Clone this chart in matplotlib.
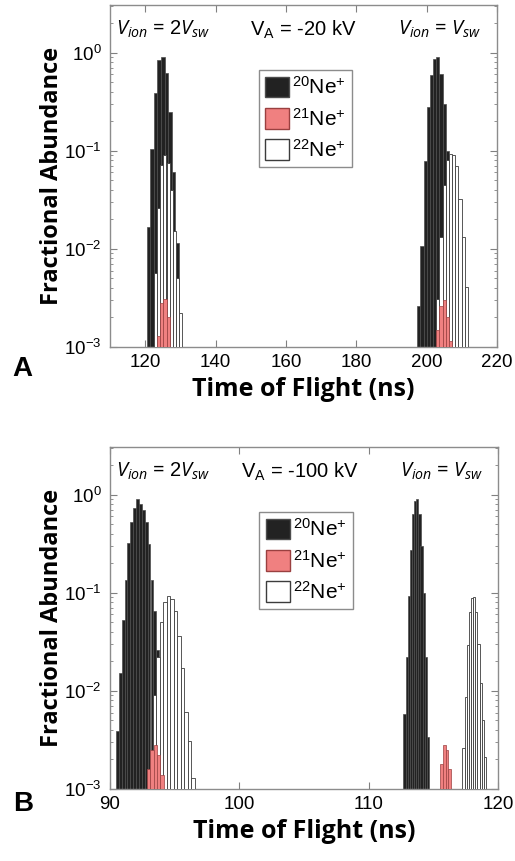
import numpy as np
import matplotlib
matplotlib.use("Agg")
import matplotlib.pyplot as plt
from matplotlib.patches import Patch
from matplotlib.ticker import LogLocator, NullFormatter

plt.rcParams['font.family'] = ['Liberation Sans', 'DejaVu Sans']
plt.rcParams['mathtext.fontset'] = 'custom'
plt.rcParams['mathtext.rm'] = 'Liberation Sans'
plt.rcParams['mathtext.it'] = 'Open Sans:italic'
plt.rcParams['mathtext.bf'] = 'Liberation Sans:bold'
plt.rcParams['mathtext.default'] = 'regular'

# ---- panel A data (V_A = -20 kV) ----
a_ne20_slow_x = [121, 122, 123, 124, 125, 126, 127, 128, 129]
a_ne20_slow_y = [0.0166, 0.105, 0.39, 0.83, 0.91, 0.62, 0.25, 0.06, 0.0115]
a_ne22_slow_x = [122.9, 123.75, 124.65, 125.6, 126.55, 127.5, 128.4, 129.3, 130.15]
a_ne22_slow_y = [0.0056, 0.026, 0.072, 0.091, 0.074, 0.04, 0.015, 0.005, 0.0021]
a_ne21_slow_x = [123.7, 124.65, 125.6, 126.55]
a_ne21_slow_y = [0.0012, 0.0027, 0.003, 0.0019]

a_ne20_fast_x = [197.8, 198.7, 199.6, 200.5, 201.4, 202.3, 203.2, 204.1, 205.0, 205.9]
a_ne20_fast_y = [0.0025, 0.0105, 0.078, 0.28, 0.59, 0.85, 0.91, 0.6, 0.3, 0.1]
a_ne22_fast_x = [203.2, 204.1, 205.0, 205.9, 206.8, 207.7, 208.6, 209.5, 210.4, 211.3]
a_ne22_fast_y = [0.003, 0.013, 0.045, 0.08, 0.093, 0.09, 0.07, 0.032, 0.013, 0.004]
a_ne21_fast_x = [203.2, 204.1, 205.0, 205.9, 206.8]
a_ne21_fast_y = [0.0014, 0.0025, 0.0029, 0.0019, 0.00105]

# ---- panel B data (V_A = -100 kV) ----
b_ne20_slow_x = [90.57, 90.79, 91.02, 91.24, 91.46, 91.69, 91.91, 92.13,
                 92.35, 92.58, 92.80, 93.02, 93.25, 93.47, 93.69]
b_ne20_slow_y = [0.0038, 0.015, 0.053, 0.136, 0.32, 0.53, 0.73, 0.9,
                 0.8, 0.70, 0.53, 0.31, 0.136, 0.065, 0.026]
b_ne22_slow_x = [93.43, 93.70, 93.97, 94.24, 94.51, 94.78, 95.05, 95.32,
                 95.59, 95.86, 96.13, 96.40]
b_ne22_slow_y = [0.009, 0.022, 0.05, 0.081, 0.093, 0.086, 0.065, 0.036,
                 0.017, 0.006, 0.003, 0.0012]
b_ne21_slow_x = [92.99, 93.25, 93.5, 93.76, 94.02]
b_ne21_slow_y = [0.0015, 0.0024, 0.0027, 0.0021, 0.0013]

b_ne20_fast_x = [112.77, 112.94, 113.10, 113.27, 113.43, 113.60, 113.76,
                 113.93, 114.09, 114.26, 114.42, 114.59]
b_ne20_fast_y = [0.0057, 0.022, 0.092, 0.27, 0.63, 0.86, 0.9, 0.63, 0.3,
                 0.1, 0.022, 0.0033]
b_ne22_fast_x = [117.33, 117.50, 117.66, 117.83, 117.99, 118.16, 118.33,
                 118.49, 118.66, 118.82, 118.99]
b_ne22_fast_y = [0.0025, 0.0085, 0.029, 0.063, 0.088, 0.09, 0.064, 0.03,
                 0.012, 0.005, 0.002]
b_ne21_fast_x = [115.65, 115.85, 116.05, 116.25]
b_ne21_fast_y = [0.0017, 0.0027, 0.0024, 0.0015]

labels = ['$^{20}$Ne$^{+}$', '$^{21}$Ne$^{+}$', '$^{22}$Ne$^{+}$']

c20 = dict(facecolor='#222222', edgecolor='#4d4d4d', linewidth=0.5)
c21 = dict(facecolor='#f08080', edgecolor='#9a4040', linewidth=0.5)
c22 = dict(facecolor='white', edgecolor='#3c3c3c', linewidth=0.6)


def barras(ax, x, y, estilo, z):
    x = np.array(x)
    w = np.diff(x).mean() if len(x) > 1 else 0.2
    ax.bar(x, y, width=w, bottom=1e-4, zorder=z, **estilo)


def painel(ax, grupos, xlim, xticks, va_txt, pos_txt):
    ax.set_yscale('log')
    for (x20, y20, x21, y21, x22, y22) in grupos:
        barras(ax, x20, y20, c20, 2)
        barras(ax, x22, y22, c22, 3)
        barras(ax, x21, y21, c21, 4)
    ax.set_xlim(*xlim)
    ax.set_ylim(1e-3, 3.05)
    ax.set_xticks(xticks)
    ax.yaxis.set_major_locator(LogLocator(base=10, numticks=10))
    ax.yaxis.set_minor_locator(LogLocator(base=10, subs=np.arange(2, 10), numticks=10))
    ax.yaxis.set_minor_formatter(NullFormatter())
    ax.tick_params(which='both', direction='in', top=True, right=True,
                   color='#808080', labelsize=13.5)
    ax.tick_params(which='major', length=5, width=0.8)
    ax.tick_params(which='minor', length=2.5, width=0.6)
    ax.tick_params(axis='x', pad=5)
    ax.tick_params(axis='y', pad=6)
    for s in ax.spines.values():
        s.set_color('#8c8c8c')
        s.set_linewidth(1.0)
    ax.set_xlabel('Time of Flight (ns)', fontsize=18, fontweight='bold',
                  family='Open Sans', labelpad=4)
    ax.set_ylabel('Fractional Abundance', fontsize=17, fontweight='bold',
                  family='Open Sans', labelpad=0)

    ax.text(pos_txt[0], 1.72, '$\\mathit{V_{ion}}$ = $\\mathit{2V_{sw}}$', fontsize=14.5,
            ha='left', va='center', family='Open Sans')
    ax.text(pos_txt[1], 1.72, '$V_{A}$ = ' + va_txt, fontsize=14.5,
            ha='center', va='center')
    ax.text(pos_txt[2], 1.72, '$\\mathit{V_{ion}}$ = $\\mathit{V_{sw}}$', fontsize=14.5,
            ha='center', va='center', family='Open Sans')

    handles = [Patch(**c20), Patch(**c21), Patch(**c22)]
    for h in handles:
        h.set_linewidth(1.0)
    ax.legend(handles, labels, loc='upper left', bbox_to_anchor=(0.385, 0.81),
              fontsize=15, handlelength=1.15, handleheight=1.15,
              labelspacing=0.45, handletextpad=0.15, borderpad=0.3,
              borderaxespad=0, fancybox=False, framealpha=1,
              edgecolor='#8c8c8c')


fig = plt.figure(figsize=(5.15, 8.61), dpi=100)
axA = fig.add_axes([110 / 515, 1 - 347 / 861, 387 / 515, 342 / 861])
axB = fig.add_axes([110 / 515, 1 - 789 / 861, 388 / 515, 342 / 861])

painel(axA,
       [(a_ne20_slow_x, a_ne20_slow_y, a_ne21_slow_x, a_ne21_slow_y, a_ne22_slow_x, a_ne22_slow_y),
        (a_ne20_fast_x, a_ne20_fast_y, a_ne21_fast_x, a_ne21_fast_y, a_ne22_fast_x, a_ne22_fast_y)],
       (110, 220), [120, 140, 160, 180, 200, 220], '-20 kV', (111.8, 165, 203.6))
painel(axB,
       [(b_ne20_slow_x, b_ne20_slow_y, b_ne21_slow_x, b_ne21_slow_y, b_ne22_slow_x, b_ne22_slow_y),
        (b_ne20_fast_x, b_ne20_fast_y, b_ne21_fast_x, b_ne21_fast_y, b_ne22_fast_x, b_ne22_fast_y)],
       (90, 120), [90, 100, 110, 120], '-100 kV', (90.5, 104.7, 115.6))

fig.text(22 / 515, 1 - 369 / 861, 'A', fontsize=20, fontweight='bold', ha='center', va='center')
fig.text(23 / 515, 1 - 804 / 861, 'B', fontsize=20, fontweight='bold', ha='center', va='center')

fig.savefig('out.png', dpi=100)
